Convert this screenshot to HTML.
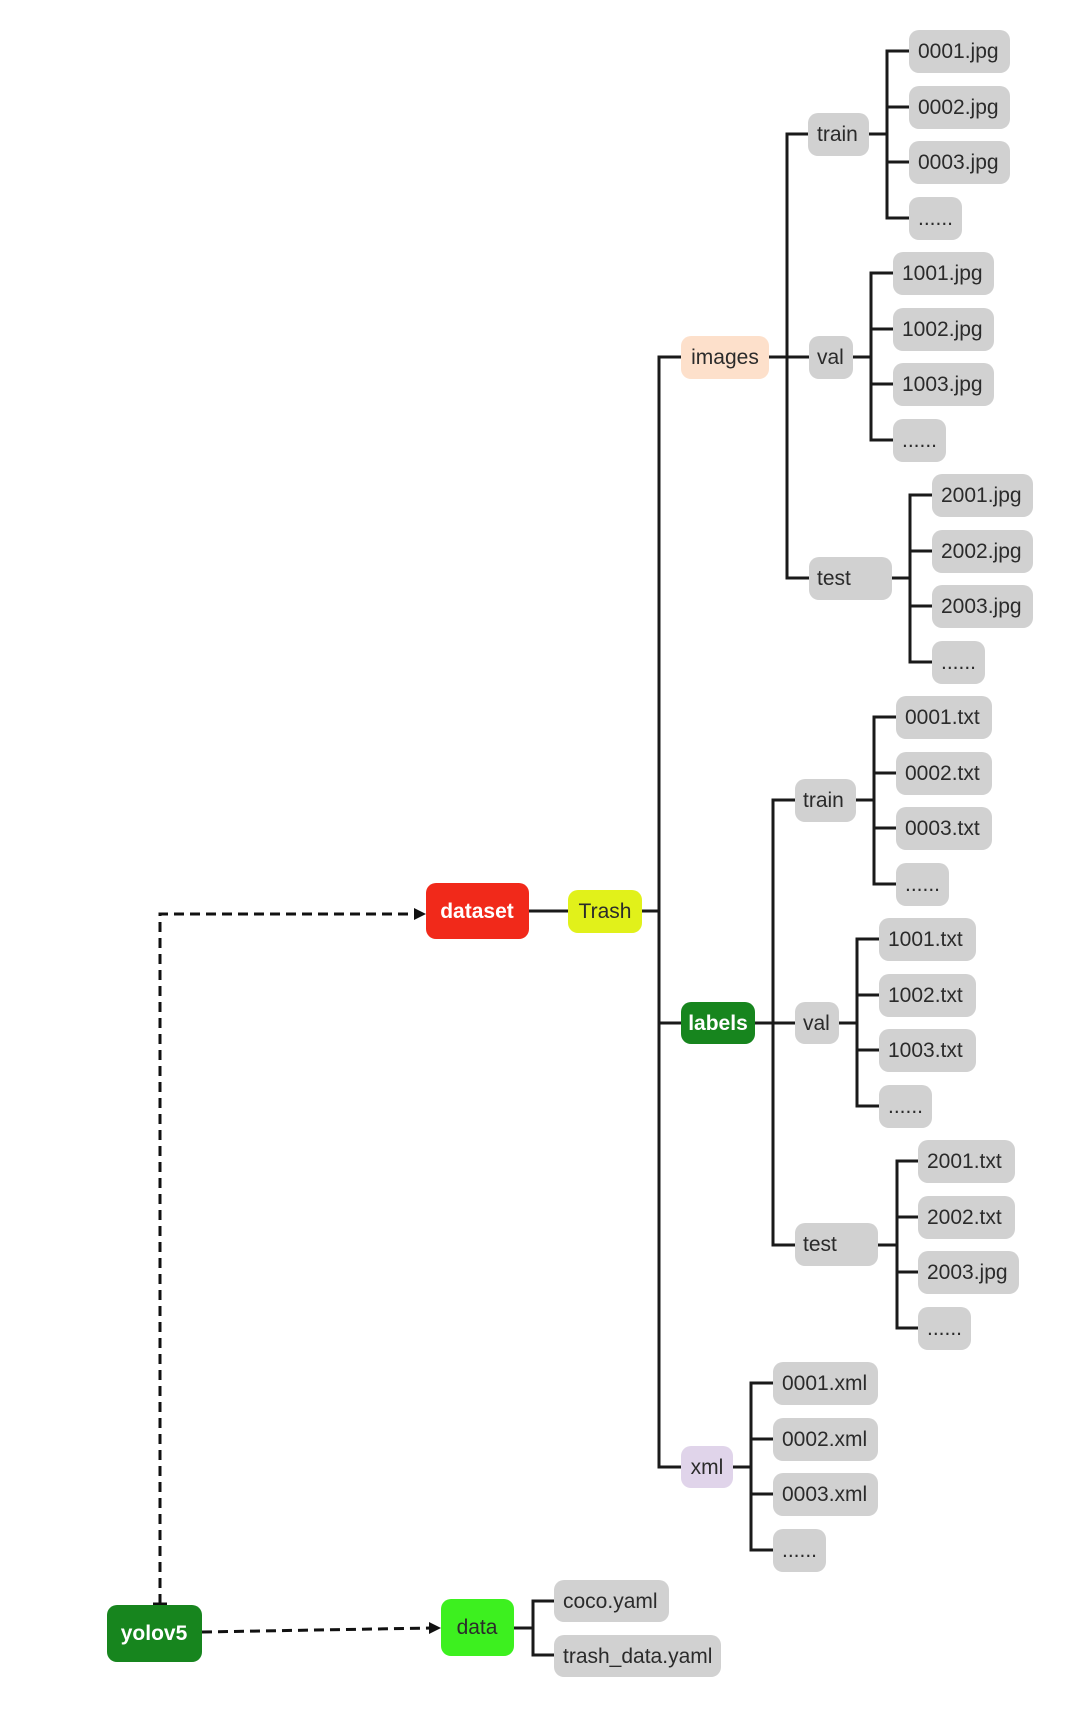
<!DOCTYPE html>
<html><head><meta charset="utf-8"><style>
html,body{margin:0;padding:0;background:#fff;}
svg{display:block;}
text{font-family:"Liberation Sans",sans-serif;font-size:21px;fill:#2b2b2b;}
.g{fill:#d1d1d1;}
.l{stroke:#1a1a1a;stroke-width:3;fill:none;}
.d{stroke:#111;stroke-width:3;fill:none;stroke-dasharray:10 6;}
</style></head><body>
<svg width="1074" height="1709" viewBox="0 0 1074 1709" xmlns="http://www.w3.org/2000/svg">
<path class="d" d="M160 1604 L160 914 L418 914"/>
<polygon points="426,914 414,908 414,920" fill="#111"/>
<line x1="153" y1="1604" x2="167" y2="1604" stroke="#111" stroke-width="3"/>
<path class="d" d="M202 1632 L432 1628"/>
<polygon points="441,1628 429,1622 429,1634" fill="#111"/>

<path class="l" d="M529 911 L568 911"/>
<path class="l" d="M642 911 L659 911"/>
<path class="l" d="M681 357 L659 357 L659 1467 L681 1467"/>
<path class="l" d="M659 1023 L681 1023"/>
<path class="l" d="M769 357 L809 357"/>
<path class="l" d="M808 134 L787 134 L787 578 L809 578"/>
<path class="l" d="M869 134 L887 134"/>
<path class="l" d="M909 51 L887 51 L887 218 L909 218 M887 107 L909 107 M887 162 L909 162"/>
<path class="l" d="M853 357 L871 357"/>
<path class="l" d="M893 273 L871 273 L871 440 L893 440 M871 329 L893 329 M871 384 L893 384"/>
<path class="l" d="M892 578 L910 578"/>
<path class="l" d="M932 495 L910 495 L910 662 L932 662 M910 551 L932 551 M910 606 L932 606"/>
<path class="l" d="M755 1023 L795 1023"/>
<path class="l" d="M795 800 L773 800 L773 1245 L795 1245"/>
<path class="l" d="M856 800 L874 800"/>
<path class="l" d="M896 717 L874 717 L874 884 L896 884 M874 773 L896 773 M874 828 L896 828"/>
<path class="l" d="M839 1023 L857 1023"/>
<path class="l" d="M879 939 L857 939 L857 1106 L879 1106 M857 995 L879 995 M857 1050 L879 1050"/>
<path class="l" d="M878 1245 L897 1245"/>
<path class="l" d="M918 1161 L897 1161 L897 1328 L918 1328 M897 1217 L918 1217 M897 1272 L918 1272"/>
<path class="l" d="M733 1467 L751 1467"/>
<path class="l" d="M773 1383 L751 1383 L751 1550 L773 1550 M751 1439 L773 1439 M751 1494 L773 1494"/>
<path class="l" d="M514 1628 L533 1628"/>
<path class="l" d="M554 1601 L533 1601 L533 1655 L554 1655"/>

<rect x="426" y="883" width="103" height="56" rx="10" fill="#f1291a"/>
<text x="477" y="918" text-anchor="middle" style="fill:#fff;font-weight:bold">dataset</text>
<rect x="568" y="890" width="74" height="43" rx="10" fill="#e1f11a"/>
<text x="605" y="918" text-anchor="middle">Trash</text>
<rect x="681" y="336" width="88" height="43" rx="10" fill="#fde0cb"/>
<text x="725" y="364" text-anchor="middle">images</text>
<rect x="681" y="1002" width="74" height="42" rx="10" fill="#17851e"/>
<text x="718" y="1030" text-anchor="middle" style="fill:#fff;font-weight:bold">labels</text>
<rect x="681" y="1446" width="52" height="42" rx="10" fill="#e0d4ea"/>
<text x="707" y="1474" text-anchor="middle">xml</text>
<rect x="107" y="1605" width="95" height="57" rx="10" fill="#17851e"/>
<text x="154" y="1640" text-anchor="middle" style="fill:#fff;font-weight:bold">yolov5</text>
<rect x="441" y="1599" width="73" height="57" rx="10" fill="#3df01f"/>
<text x="477" y="1634" text-anchor="middle">data</text>

<g>
<rect class="g" x="808" y="113" width="61" height="43" rx="10"/><text x="817" y="141">train</text>
<rect class="g" x="909" y="30" width="101" height="43" rx="10"/><text x="918" y="58">0001.jpg</text>
<rect class="g" x="909" y="86" width="101" height="43" rx="10"/><text x="918" y="114">0002.jpg</text>
<rect class="g" x="909" y="141" width="101" height="43" rx="10"/><text x="918" y="169">0003.jpg</text>
<rect class="g" x="909" y="197" width="53" height="43" rx="10"/><text x="918" y="225">......</text>

<rect class="g" x="809" y="336" width="44" height="43" rx="10"/><text x="817" y="364">val</text>
<rect class="g" x="893" y="252" width="101" height="43" rx="10"/><text x="902" y="280">1001.jpg</text>
<rect class="g" x="893" y="308" width="101" height="43" rx="10"/><text x="902" y="336">1002.jpg</text>
<rect class="g" x="893" y="363" width="101" height="43" rx="10"/><text x="902" y="391">1003.jpg</text>
<rect class="g" x="893" y="419" width="53" height="43" rx="10"/><text x="902" y="447">......</text>

<rect class="g" x="809" y="557" width="83" height="43" rx="10"/><text x="817" y="585">test</text>
<rect class="g" x="932" y="474" width="101" height="43" rx="10"/><text x="941" y="502">2001.jpg</text>
<rect class="g" x="932" y="530" width="101" height="43" rx="10"/><text x="941" y="558">2002.jpg</text>
<rect class="g" x="932" y="585" width="101" height="43" rx="10"/><text x="941" y="613">2003.jpg</text>
<rect class="g" x="932" y="641" width="53" height="43" rx="10"/><text x="941" y="669">......</text>

<rect class="g" x="795" y="779" width="61" height="43" rx="10"/><text x="803" y="807">train</text>
<rect class="g" x="896" y="696" width="96" height="43" rx="10"/><text x="905" y="724">0001.txt</text>
<rect class="g" x="896" y="752" width="96" height="43" rx="10"/><text x="905" y="780">0002.txt</text>
<rect class="g" x="896" y="807" width="96" height="43" rx="10"/><text x="905" y="835">0003.txt</text>
<rect class="g" x="896" y="863" width="53" height="43" rx="10"/><text x="905" y="891">......</text>

<rect class="g" x="795" y="1002" width="44" height="42" rx="10"/><text x="803" y="1030">val</text>
<rect class="g" x="879" y="918" width="97" height="43" rx="10"/><text x="888" y="946">1001.txt</text>
<rect class="g" x="879" y="974" width="97" height="43" rx="10"/><text x="888" y="1002">1002.txt</text>
<rect class="g" x="879" y="1029" width="97" height="43" rx="10"/><text x="888" y="1057">1003.txt</text>
<rect class="g" x="879" y="1085" width="53" height="43" rx="10"/><text x="888" y="1113">......</text>

<rect class="g" x="795" y="1223" width="83" height="43" rx="10"/><text x="803" y="1251">test</text>
<rect class="g" x="918" y="1140" width="97" height="43" rx="10"/><text x="927" y="1168">2001.txt</text>
<rect class="g" x="918" y="1196" width="97" height="43" rx="10"/><text x="927" y="1224">2002.txt</text>
<rect class="g" x="918" y="1251" width="101" height="43" rx="10"/><text x="927" y="1279">2003.jpg</text>
<rect class="g" x="918" y="1307" width="53" height="43" rx="10"/><text x="927" y="1335">......</text>

<rect class="g" x="773" y="1362" width="105" height="43" rx="10"/><text x="782" y="1390">0001.xml</text>
<rect class="g" x="773" y="1418" width="105" height="43" rx="10"/><text x="782" y="1446">0002.xml</text>
<rect class="g" x="773" y="1473" width="105" height="43" rx="10"/><text x="782" y="1501">0003.xml</text>
<rect class="g" x="773" y="1529" width="53" height="43" rx="10"/><text x="782" y="1557">......</text>

<rect class="g" x="554" y="1580" width="115" height="42" rx="10"/><text x="563" y="1608">coco.yaml</text>
<rect class="g" x="554" y="1635" width="167" height="42" rx="10"/><text x="563" y="1663">trash_data.yaml</text>
</g>
</svg>
</body></html>
